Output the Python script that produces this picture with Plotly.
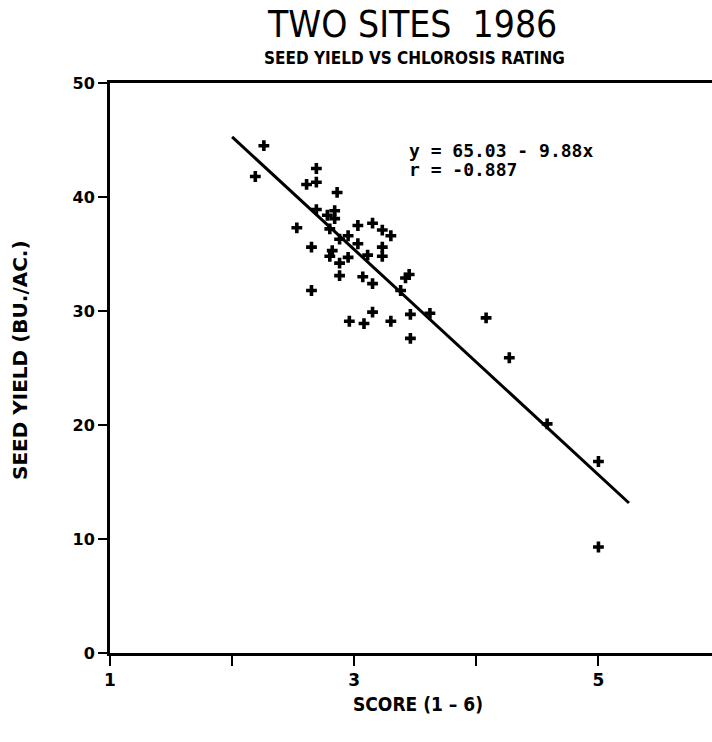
import plotly.graph_objects as go

# Chlorosis score (x) and seed yield (y)
score = [2.19, 2.26, 2.69, 2.69, 2.61, 2.86, 2.69, 2.84, 2.78, 2.84,
         2.53, 2.80, 3.03, 3.15, 3.23, 3.30, 2.95, 2.88, 3.03, 2.65,
         3.23, 2.82, 2.80, 2.95, 3.11, 3.23, 2.88, 2.88, 3.07, 3.15,
         2.65, 3.45, 3.42, 3.38, 3.62, 3.46, 3.46, 3.15, 3.30, 2.96,
         3.08, 4.08, 4.27, 4.58, 5.00, 5.00]
yield_bu = [41.8, 44.5, 42.5, 41.3, 41.1, 40.4, 38.9, 38.8, 38.4, 38.1,
            37.3, 37.2, 37.5, 37.7, 37.1, 36.6, 36.6, 36.3, 35.9, 35.6,
            35.6, 35.3, 34.8, 34.7, 34.9, 34.8, 34.2, 33.1, 33.0, 32.4,
            31.8, 33.2, 32.9, 31.8, 29.8, 29.7, 27.6, 29.9, 29.1, 29.1,
            28.9, 29.4, 25.9, 20.1, 16.8, 9.3]

# Regression y = 65.03 - 9.88x drawn over this x span
intercept = 65.03
slope = -9.88
fit_x = [2.0, 5.25]
fit_y = [intercept + slope * v for v in fit_x]

x_ticks = [1, 2, 3, 4, 5, 6]
x_ticktext = ["1", "", "3", "", "5", ""]
y_ticks = [0, 10, 20, 30, 40, 50]

BOLD = "DejaVu Sans"
NARROW = "Liberation Sans Narrow, DejaVu Sans Condensed, Liberation Sans"

fig = go.Figure()
fig.add_trace(go.Scatter(x=fit_x, y=fit_y, mode="lines",
                         line=dict(color="black", width=3), hoverinfo="skip"))
fig.add_trace(go.Scatter(x=score, y=yield_bu, mode="markers",
                         marker=dict(symbol="cross", size=9, color="black",
                                     line=dict(width=0))))

fig.update_layout(
    width=712, height=742,
    margin=dict(l=110, r=0, t=83, b=89),
    paper_bgcolor="white", plot_bgcolor="white",
    showlegend=False,
    xaxis=dict(range=[1, 5.93], tickvals=x_ticks, ticktext=x_ticktext,
               showgrid=False, zeroline=False, showline=True, linewidth=3,
               linecolor="black", mirror=True, ticks="outside", ticklen=10,
               tickwidth=2, tickcolor="black",
               tickfont=dict(family=BOLD, size=17, color="black", weight="bold")),
    yaxis=dict(range=[0, 50], tickvals=y_ticks,
               showgrid=False, zeroline=False, showline=True, linewidth=3,
               linecolor="black", ticks="outside", ticklen=9, tickwidth=2,
               tickcolor="black",
               tickfont=dict(family=BOLD, size=16, color="black", weight="bold")),
    annotations=[
        dict(text="TWO SITES\u00a0\u00a01986", xref="paper", yref="paper",
             x=0.502, y=1.102, xanchor="center", yanchor="middle",
             showarrow=False,
             font=dict(family=NARROW, size=37, color="black")),
        dict(text="SEED YIELD VS CHLOROSIS RATING", xref="paper", yref="paper",
             x=0.505, y=1.044, xanchor="center", yanchor="middle", showarrow=False,
             font=dict(family=NARROW, size=17, color="black", weight="bold")),
        dict(text="SEED YIELD (BU./AC.)", xref="paper", yref="paper", x=-0.1495,
             y=0.514, xanchor="center", yanchor="middle", textangle=-90,
             showarrow=False,
             font=dict(family=BOLD, size=20, color="black", weight="bold")),
        dict(text="SCORE (1 – 6)", xref="paper", yref="paper", x=0.512, y=-0.0895,
             xanchor="center", yanchor="middle", showarrow=False,
             font=dict(family=NARROW, size=19, color="black", weight="bold")),
        dict(text="y = 65.03 - 9.88x", x=3.43, y=44.1, xanchor="left",
             yanchor="middle", showarrow=False,
             font=dict(family="DejaVu Sans Mono", size=18, color="black",
                       weight="bold")),
        dict(text="r = -0.887", x=3.43, y=42.4, xanchor="left",
             yanchor="middle", showarrow=False,
             font=dict(family="DejaVu Sans Mono", size=18, color="black",
                       weight="bold")),
    ],
)

fig.write_html("out.html")
